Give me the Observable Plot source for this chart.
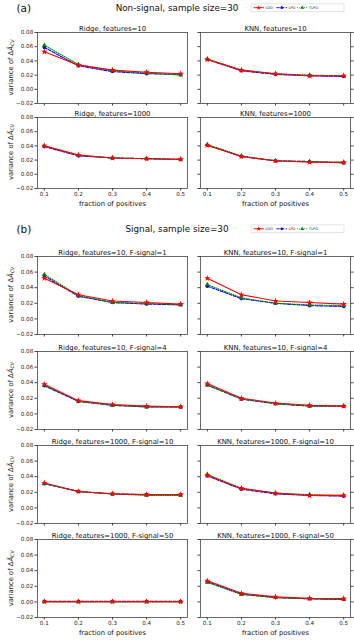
<!DOCTYPE html>
<html><head><meta charset="utf-8">
<script src="https://cdn.jsdelivr.net/npm/d3@7"></script>
<script src="https://cdn.jsdelivr.net/npm/@observablehq/plot@0.6"></script>
<style>
body{margin:0;background:#fff;}
#root{position:relative;width:354px;height:642px;overflow:hidden;font-family:"DejaVu Sans",sans-serif;}
#root svg{position:absolute;}
</style></head><body><div id="root"></div>
<script>
// ---------- data ----------
const fractions = [0.1, 0.2, 0.3, 0.4, 0.5];
const xTickLabels = ["0.1", "0.2", "0.3", "0.4", "0.5"];
const yTicks = [-0.02, 0, 0.02, 0.04, 0.06, 0.08];
const yTickLabels = ["\u22120.02", "0.00", "0.02", "0.04", "0.06", "0.08"];
const methods = ["LOO", "LPO", "TLPO"];
const sectionTitles = ["Non-signal, sample size=30", "Signal, sample size=30"];
const sectionTags = ["(a)", "(b)"];
const panelTitles = [
  "Ridge, features=10", "KNN, features=10",
  "Ridge, features=1000", "KNN, features=1000",
  "Ridge, features=10, F-signal=1", "KNN, features=10, F-signal=1",
  "Ridge, features=10, F-signal=4", "KNN, features=10, F-signal=4",
  "Ridge, features=1000, F-signal=10", "KNN, features=1000, F-signal=10",
  "Ridge, features=1000, F-signal=50", "KNN, features=1000, F-signal=50"
];
const yLabel = "variance of";
const xLabel = "fraction of positives";

const nsRidge10   = {LOO:[0.053,0.034,0.027,0.024,0.022], LPO:[0.059,0.033,0.025,0.022,0.021], TLPO:[0.062,0.035,0.026,0.023,0.020]};
const nsKNN10     = {LOO:[0.042,0.027,0.022,0.019,0.019], LPO:[0.042,0.026,0.021,0.019,0.018], TLPO:[0.043,0.027,0.022,0.020,0.019]};
const nsRidge1000 = {LOO:[0.040,0.027,0.023,0.022,0.021], LPO:[0.039,0.026,0.023,0.022,0.021], TLPO:[0.040,0.027,0.023,0.022,0.021]};
const nsKNN1000   = {LOO:[0.041,0.025,0.019,0.017,0.017], LPO:[0.041,0.025,0.019,0.018,0.016], TLPO:[0.042,0.026,0.019,0.018,0.017]};
const sRidge10F1  = {LOO:[0.052,0.031,0.023,0.021,0.019], LPO:[0.055,0.029,0.021,0.019,0.018], TLPO:[0.057,0.030,0.021,0.020,0.018]};
const sKNN10F1    = {LOO:[0.052,0.031,0.023,0.021,0.019], LPO:[0.042,0.026,0.020,0.017,0.016], TLPO:[0.044,0.027,0.020,0.018,0.017]};
const sRidge10F4  = {LOO:[0.038,0.017,0.012,0.010,0.009], LPO:[0.036,0.016,0.011,0.009,0.009], TLPO:[0.037,0.016,0.011,0.009,0.009]};
const sKNN10F4    = {LOO:[0.039,0.020,0.014,0.011,0.010], LPO:[0.037,0.019,0.013,0.010,0.010], TLPO:[0.037,0.019,0.013,0.010,0.010]};
const sRidge1000F10 = {LOO:[0.032,0.021,0.018,0.017,0.017], LPO:[0.031,0.021,0.018,0.017,0.017], TLPO:[0.031,0.021,0.018,0.016,0.016]};
const sKNN1000F10   = {LOO:[0.042,0.025,0.019,0.016,0.016], LPO:[0.041,0.024,0.018,0.016,0.015], TLPO:[0.043,0.025,0.019,0.017,0.016]};
const sRidge1000F50 = {LOO:[0.0003,0.0003,0.0003,0.0003,0.0003], LPO:[0.0008,0.0008,0.0008,0.0008,0.0008], TLPO:[0.0,0.0,0.0,0.0,0.0]};
const sKNN1000F50   = {LOO:[0.027,0.011,0.0065,0.0045,0.0042], LPO:[0.026,0.010,0.0055,0.004,0.003], TLPO:[0.025,0.0095,0.0055,0.004,0.003]};

const panelSeries = [nsRidge10, nsKNN10, nsRidge1000, nsKNN1000, sRidge10F1, sKNN10F1, sRidge10F4, sKNN10F4, sRidge1000F10, sKNN1000F10, sRidge1000F50, sKNN1000F50];

// ---------- styles ----------
const colors = {LOO:"#ff0000", LPO:"#0000ff", TLPO:"#008000"};
const dashes = {LOO:null, LPO:"3.2,1.4", TLPO:"0.9,1.4"};
const symbols = {LOO:"star", LPO:"circle", TLPO:"triangle"};
const drawOrder = ["LPO", "TLPO", "LOO"];

// ---------- layout ----------
const rowTops = [32, 116.5, 255.7, 351, 445, 539.3];
const rowHeights = [71, 71, 78, 78, 78, 78];
const bottomRows = new Set([1, 5]);
const FW = 150;
const colLeft = [37, 200];

const root = document.getElementById("root");
const xMap = new Map(fractions.map((f, i) => [f, xTickLabels[i]]));
const yMap = new Map(yTicks.map((t, i) => [t, yTickLabels[i]]));

function makePanel(p) {
  const row = Math.floor(p / 2), col = p % 2;
  const isLeft = col === 0, bottom = bottomRows.has(row);
  const mL = isLeft ? 37 : 12, mR = 4, mT = 12, mB = bottom ? 26 : 5;
  const fh = rowHeights[row];
  const series = panelSeries[p];
  const marks = [
    Plot.axisY({ticks: yTicks, tickSize: 2.5, tickPadding: 1.8, label: null, stroke: "#444",
      tickFormat: d => isLeft ? yMap.get(d) : "", fill: "#222"}),
    Plot.axisX({ticks: fractions, tickSize: 2.5, tickPadding: 1.5, label: null, stroke: "#444",
      tickFormat: d => bottom ? xMap.get(d) : "", fill: "#222"}),
    Plot.text([panelTitles[p]], {text: d => d, frameAnchor: "top", dy: -6, fontSize: 6.9, fill: "#111"})
  ];
  if (!isLeft) marks.push(Plot.axisY({anchor: "right", ticks: yTicks, tickSize: 2.5, label: null, stroke: "#444", tickFormat: () => ""}));
  if (bottom) marks.push(Plot.text([xLabel], {text: d => d, frameAnchor: "bottom", dy: 17.8, fontSize: 6.8, fill: "#111"}));
  for (const m of drawOrder) {
    const vals = series[m];
    marks.push(Plot.line(vals, {x: (d, i) => fractions[i], y: d => d, stroke: colors[m], strokeWidth: 1.1, strokeDasharray: dashes[m]}));
    marks.push(Plot.dot(vals, {x: (d, i) => fractions[i], y: d => d, symbol: symbols[m], fill: colors[m], r: m === "LOO" ? 2.0 : 1.8}));
  }
  marks.push(Plot.frame({stroke: "#444", strokeWidth: 0.8}));
  const chart = Plot.plot({
    width: mL + FW + mR, height: mT + fh + mB,
    marginLeft: mL, marginRight: mR, marginTop: mT, marginBottom: mB,
    style: {background: "transparent", overflow: "visible", fontFamily: "DejaVu Sans", fontSize: "5.6px", color: "#222"},
    x: {domain: [0.08, 0.52]},
    y: {domain: [-0.02, 0.08]},
    marks
  });
  chart.style.left = (colLeft[col] - mL) + "px";
  chart.style.top = (rowTops[row] - mT) + "px";
  root.appendChild(chart);
}
for (let p = 0; p < 12; p++) makePanel(p);

// ---------- overlay texts & legends ----------
const ov = d3.select(root).append("svg").attr("width", 354).attr("height", 642)
  .style("left", "0px").style("top", "0px").style("font-family", "DejaVu Sans");

const secY = [7.5, 229.2];
const legY = [7.7, 228.8];
secY.forEach((y, s) => {
  ov.append("text").attr("x", 16.5).attr("y", y).attr("dominant-baseline", "central")
    .attr("font-size", 10.5).attr("fill", "#111").text(sectionTags[s]);
  ov.append("text").attr("x", 177).attr("y", y).attr("text-anchor", "middle").attr("dominant-baseline", "central")
    .attr("font-size", 8.8).attr("fill", "#111").text(sectionTitles[s]);
  const ly = legY[s];
  const g = ov.append("g");
  g.append("rect").attr("x", 251).attr("y", ly - 3.9).attr("width", 93).attr("height", 7.8).attr("rx", 1)
    .attr("fill", "#fff").attr("stroke", "#d0d0d0").attr("stroke-width", 0.6);
  const starts = [253.5, 276.5, 297];
  methods.forEach((m, i) => {
    const x0 = starts[i];
    g.append("line").attr("x1", x0).attr("x2", x0 + 10.5).attr("y1", ly).attr("y2", ly)
      .attr("stroke", colors[m]).attr("stroke-width", 0.9).attr("stroke-dasharray", dashes[m]);
    g.append("path").attr("transform", `translate(${x0 + 5.25},${ly})`)
      .attr("d", d3.symbol(m === "LOO" ? d3.symbolStar : m === "LPO" ? d3.symbolCircle : d3.symbolTriangle, m === "LOO" ? 8 : 6)())
      .attr("fill", colors[m]);
    g.append("text").attr("x", x0 + 12).attr("y", ly).attr("dominant-baseline", "central")
      .attr("font-size", 3.5).attr("fill", "#222").text(m);
  });
});

// y labels for left column
rowTops.forEach((t, r) => {
  const cy = t + rowHeights[r] / 2;
  const tx = ov.append("text").attr("transform", `translate(10.5,${cy}) rotate(-90)`)
    .attr("text-anchor", "middle").attr("dominant-baseline", "central").attr("font-size", 6.8).attr("fill", "#111");
  tx.append("tspan").text(yLabel + " \u0394");
  tx.append("tspan").attr("font-style", "italic").text("\u00C2");
  tx.append("tspan").attr("font-style", "italic").attr("font-size", 4.8).attr("dy", 1.4).text("CV");
});
</script></body></html>
